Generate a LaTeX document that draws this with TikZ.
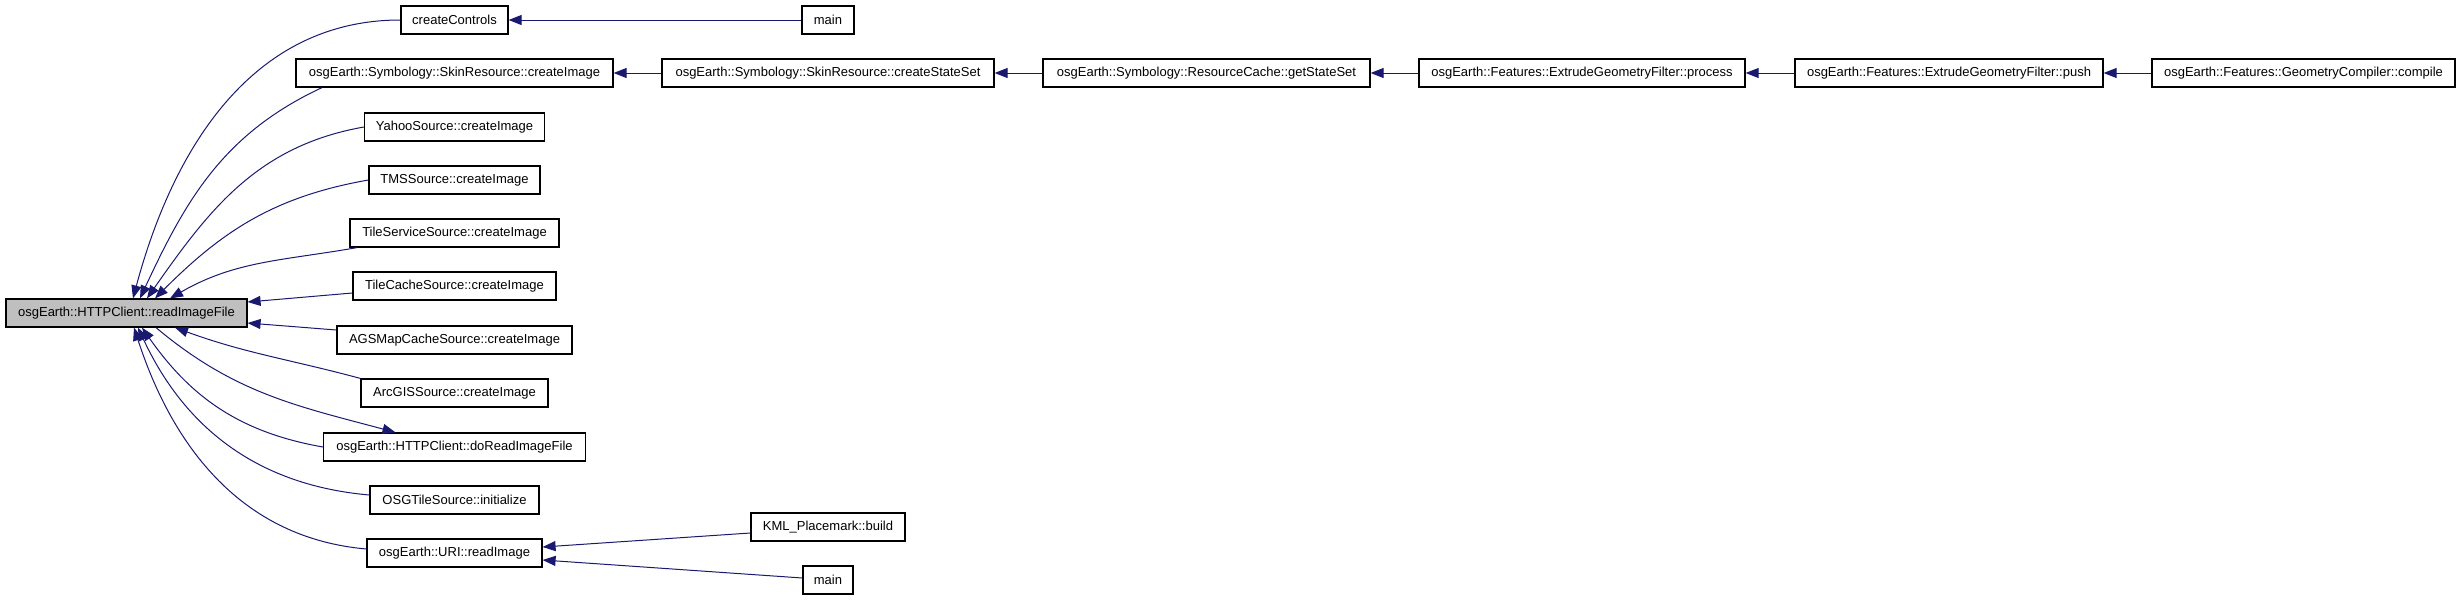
\documentclass[tikz,border=0pt]{standalone}
\usepackage{fontspec}
\setmainfont{Liberation Sans}
\usepackage{xcolor}
\definecolor{edgeblue}{HTML}{191970}
\definecolor{boxgray}{HTML}{BFBFBF}
\usetikzlibrary{arrows.meta}

\begin{document}
\begin{tikzpicture}[x=1pt, y=1pt,
  fn/.style={draw=black, line width=1.2pt, minimum height=28pt, inner sep=0pt,
    font=\fontsize{13}{15}\selectfont},
  call/.style={draw=edgeblue, line width=1pt, -{Triangle[length=13pt, width=10pt]}}]
  \useasboundingbox (0,0) rectangle (2461,-600);
  % The function itself
  \node[fn, fill=boxgray, minimum width=241] (rif) at (126.5,-313) {osgEarth::HTTPClient::readImageFile};
  % Direct callers
  \foreach \n/\y/\w/\t in {cc/20/107/createControls,
      skimg/73/317/osgEarth::Symbology::SkinResource::createImage,
      yahoo/127/180/YahooSource::createImage,
      tms/180/171/TMSSource::createImage,
      tileserv/233/209/TileServiceSource::createImage,
      tilecache/286/203/TileCacheSource::createImage,
      ags/340/235/AGSMapCacheSource::createImage,
      arcgis/393/187/ArcGISSource::createImage,
      doread/447/262/osgEarth::HTTPClient::doReadImageFile,
      osgtile/500/169/OSGTileSource::initialize,
      uri/553/175/osgEarth::URI::readImage} {
    \node[fn, minimum width=\w] (\n) at (454.5,-\y) {\t};
  }
  % Callers further out
  \node[fn, minimum width=52] (mainA) at (828,-20) {main};
  \node[fn, minimum width=332] (sss) at (828,-73) {osgEarth::Symbology::SkinResource::createStateSet};
  \node[fn, minimum width=327] (gss) at (1206.5,-73) {osgEarth::Symbology::ResourceCache::getStateSet};
  \node[fn, minimum width=326] (proc) at (1582,-73) {osgEarth::Features::ExtrudeGeometryFilter::process};
  \node[fn, minimum width=308] (push) at (1949,-73) {osgEarth::Features::ExtrudeGeometryFilter::push};
  \node[fn, minimum width=303] (compile) at (2303.5,-73) {osgEarth::Features::GeometryCompiler::compile};
  \node[fn, minimum width=154] (kml) at (828,-527) {KML\_Placemark::build};
  \node[fn, minimum width=50] (mainB) at (828,-580) {main};
  % Straight call chains
  \foreach \a/\b in {mainA/cc, sss/skimg, gss/sss, proc/gss, push/proc, compile/push} {
    \draw[call] (\a) -- (\b);
  }
  \draw[call] ([yshift=-6]kml.west) -- ([yshift=6]uri.east);
  \draw[call] ([yshift=2]mainB.west) -- ([yshift=-7]uri.east);
  % Into the top of readImageFile
  \draw[call] (cc.west) to[out=180, in=75] ([xshift=6.5]rif.north);
  \draw[call] ([xshift=-132.5]skimg.south) to[out=205, in=65] ([xshift=13.5]rif.north);
  \draw[call] (yahoo.west) to[out=190, in=55] ([xshift=20.5]rif.north);
  \draw[call] (tms.west) to[out=190, in=45] ([xshift=28.5]rif.north);
  \draw[call] ([xshift=-97.5]tileserv.south) to[out=190, in=30] ([xshift=43.5]rif.north);
  % Into the side
  \draw[call] ([yshift=-7]tilecache.west) -- ([yshift=11]rif.east);
  \draw[call] ([yshift=10]ags.west) -- ([yshift=-10]rif.east);
  % Into the bottom
  \draw[call] (arcgis.north west) to[out=165, in=-20] ([xshift=48.5]rif.south);
  \draw[call] (doread.west) to[out=170, in=-55] ([xshift=15.5]rif.south);
  \draw[call] ([xshift=29.5]rif.south) to[out=-40, in=165] ([xshift=-59]doread.north);
  \draw[call] ([yshift=5]osgtile.west) to[out=175, in=-65] ([xshift=11.5]rif.south);
  \draw[call] ([yshift=4]uri.west) to[out=175, in=-72] ([xshift=7.5]rif.south);
\end{tikzpicture}
\end{document}
